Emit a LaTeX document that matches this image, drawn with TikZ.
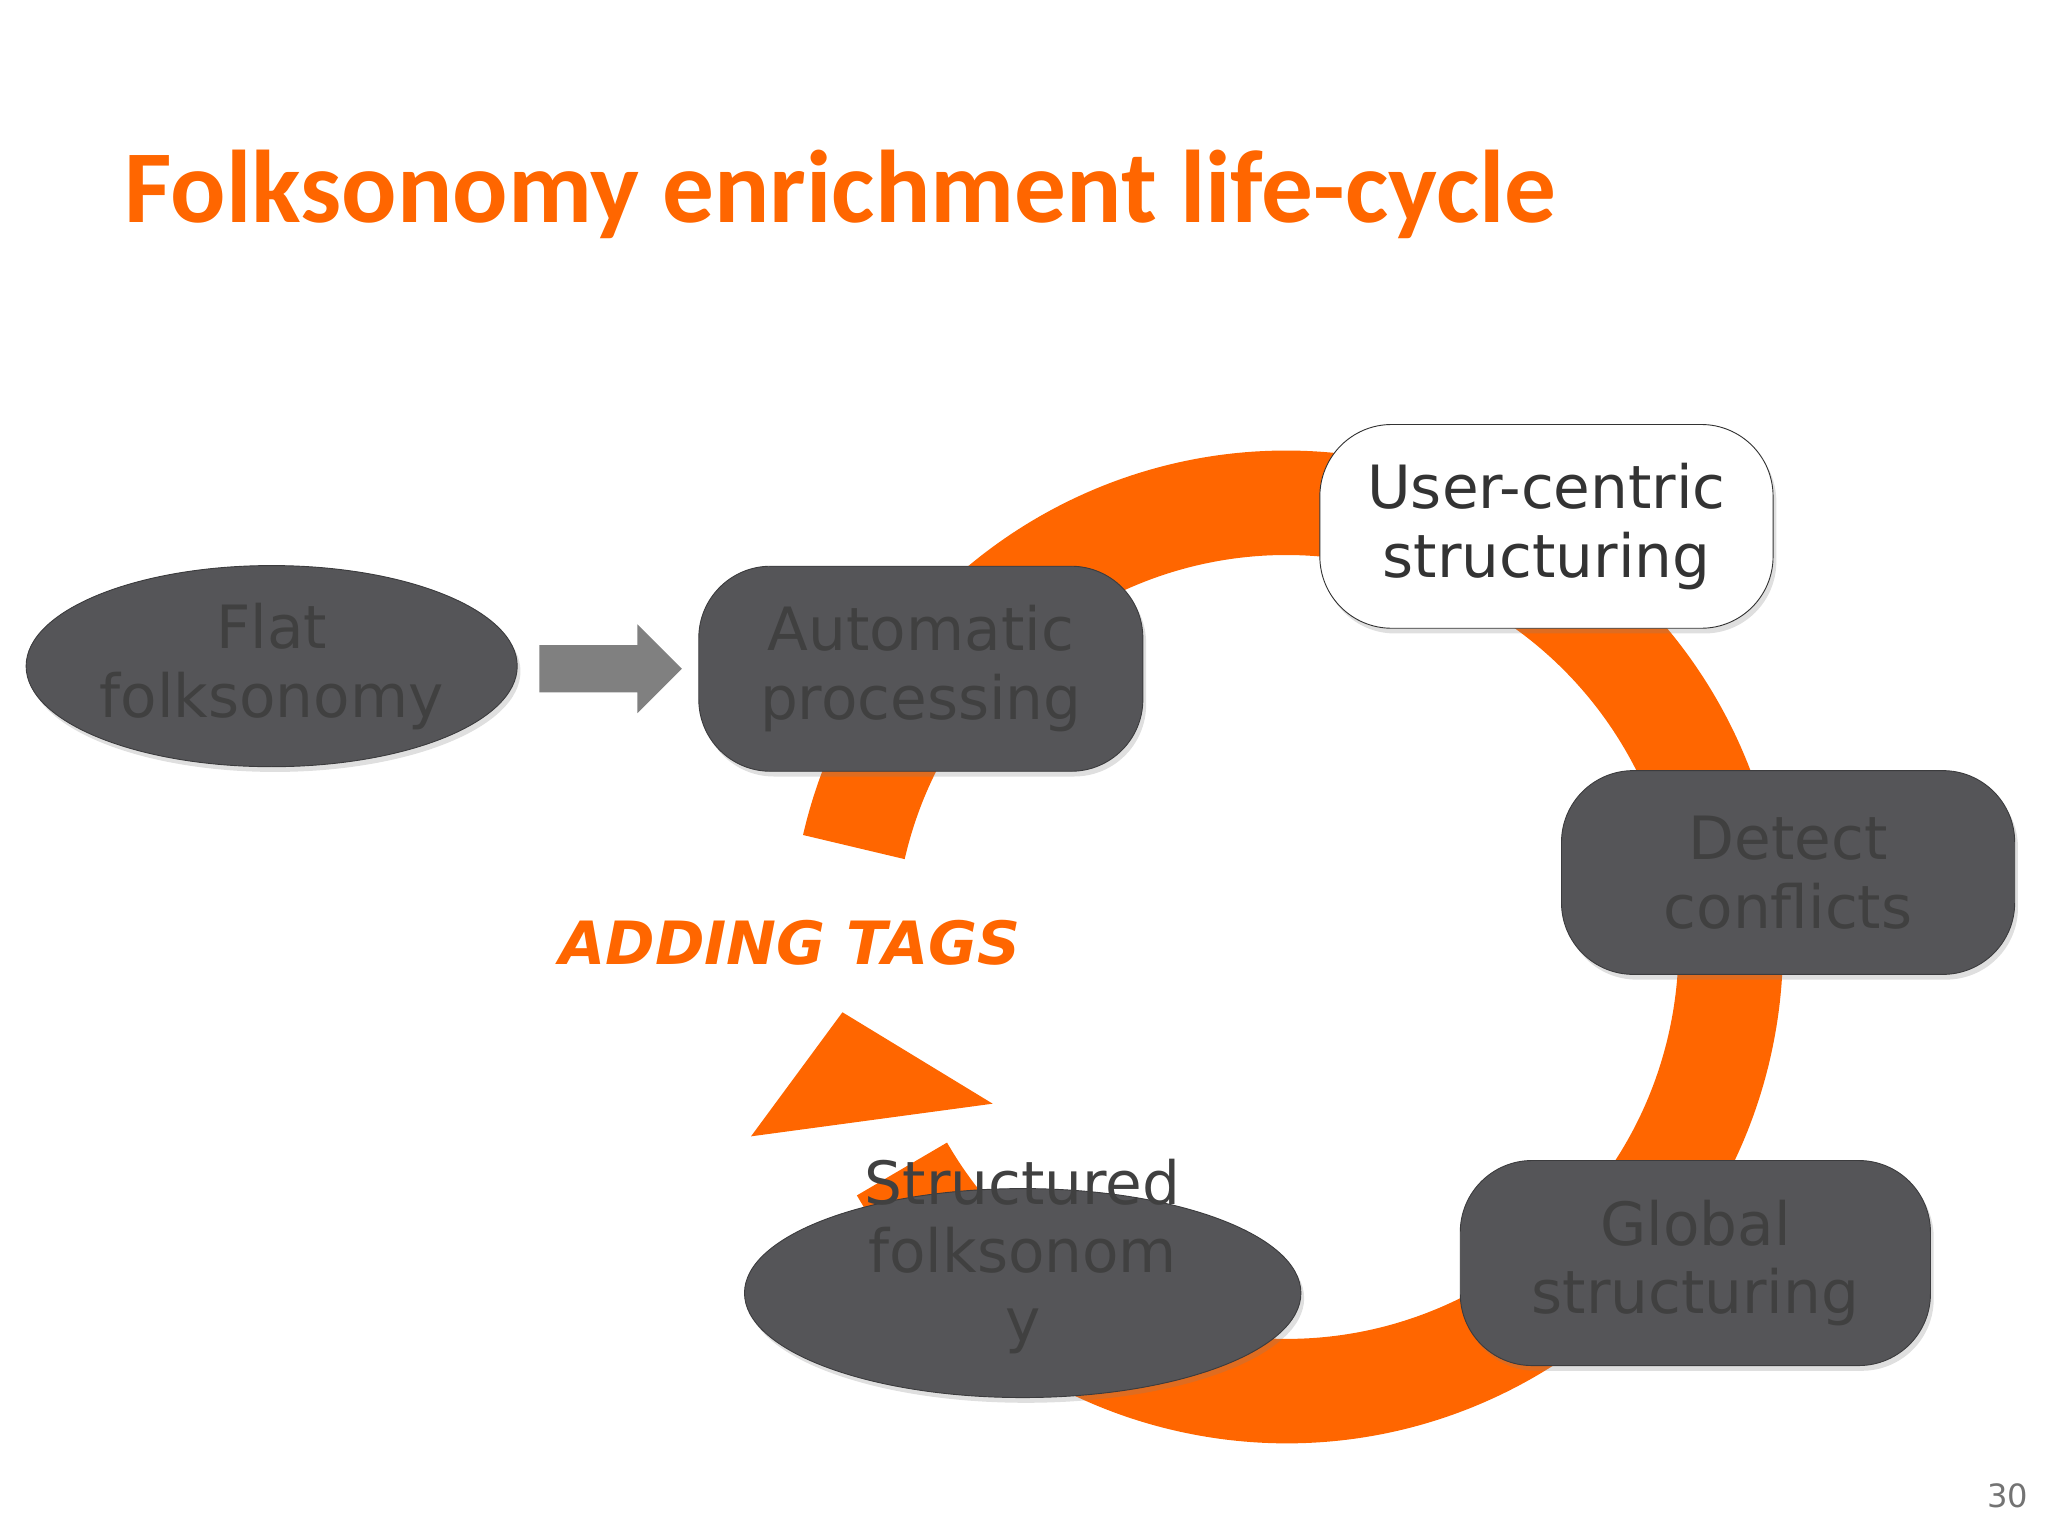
\documentclass[tikz,border=0pt]{standalone}
\usepackage{fontspec}
\setmainfont{DejaVu Sans}
\newfontfamily\titlefont{Carlito}
\usetikzlibrary{shapes.geometric,shadows}
\definecolor{org}{HTML}{FF6600}
\definecolor{dk}{HTML}{555558}
\definecolor{dktx}{HTML}{404040}
\begin{document}
\begin{tikzpicture}[x=0.02cm,y=0.02cm,
  dkbox/.style={rounded corners=1.1cm,fill=dk,draw=dk!70!black,text=dktx,font=\fontsize{26}{30}\selectfont,align=center,inner sep=0pt,drop shadow={opacity=0.25,shadow xshift=0.05cm,shadow yshift=-0.08cm}},
  dkell/.style={ellipse,fill=dk,draw=dk!70!black,text=dktx,font=\fontsize{26}{30}\selectfont,align=center,inner sep=0pt,drop shadow={opacity=0.25,shadow xshift=0.05cm,shadow yshift=-0.08cm}}]
\useasboundingbox (0,0) rectangle (1568,-1177);
% ring
\draw[org,line width=1.6cm] (985,-725) ++(167:340) arc[start angle=167,end angle=-150,radius=340];
\fill[org] (575,-870) -- (645,-775) -- (760,-845) -- cycle;
% title
\node[anchor=base west,inner sep=0pt,text=org,font=\titlefont\bfseries\fontsize{45}{50}\selectfont] (title) at (95,-170) {Folksonomy enrichment life-cycle};
% nodes
\node[dkell,minimum width=376*0.02cm,minimum height=154*0.02cm] (flat) at (208,-510) {Flat\\folksonomy};
\node[dkbox,minimum width=340*0.02cm,minimum height=157*0.02cm] (auto) at (705,-512) {Automatic\\processing};
\node[dkbox,fill=white,draw=black!80,text=black!80,minimum width=347*0.02cm,minimum height=156*0.02cm] (user) at (1184,-403) {User-centric\\structuring};
\node[dkbox,minimum width=347*0.02cm,minimum height=156*0.02cm] (detect) at (1369,-668) {Detect\\conflicts};
\node[dkbox,minimum width=360*0.02cm,minimum height=157*0.02cm] (global) at (1298,-967) {Global\\structuring};
\node[dkell,minimum width=426*0.02cm,minimum height=160*0.02cm] (struct) at (783,-990) {};
\node[text=dktx,font=\fontsize{26}{30}\selectfont,align=center,inner sep=0pt] (stxt) at (783,-962) {Structured\\folksonom\\y};
% gray arrow
\coordinate (a1) at (413,-512);
\coordinate (a2) at (522,-512);
\fill[black!50] (413,-494) -- (488,-494) -- (488,-478) -- (522,-512) -- (488,-546) -- (488,-530) -- (413,-530) -- cycle;
% adding tags
\node[text=org,font=\bfseries\itshape\fontsize{26}{30}\selectfont] (add) at (605,-722) {ADDING TAGS};
\node[text=black!55,font=\fontsize{14}{16}\selectfont] (pg) at (1537,-1145) {30};
\end{tikzpicture}
\end{document}
